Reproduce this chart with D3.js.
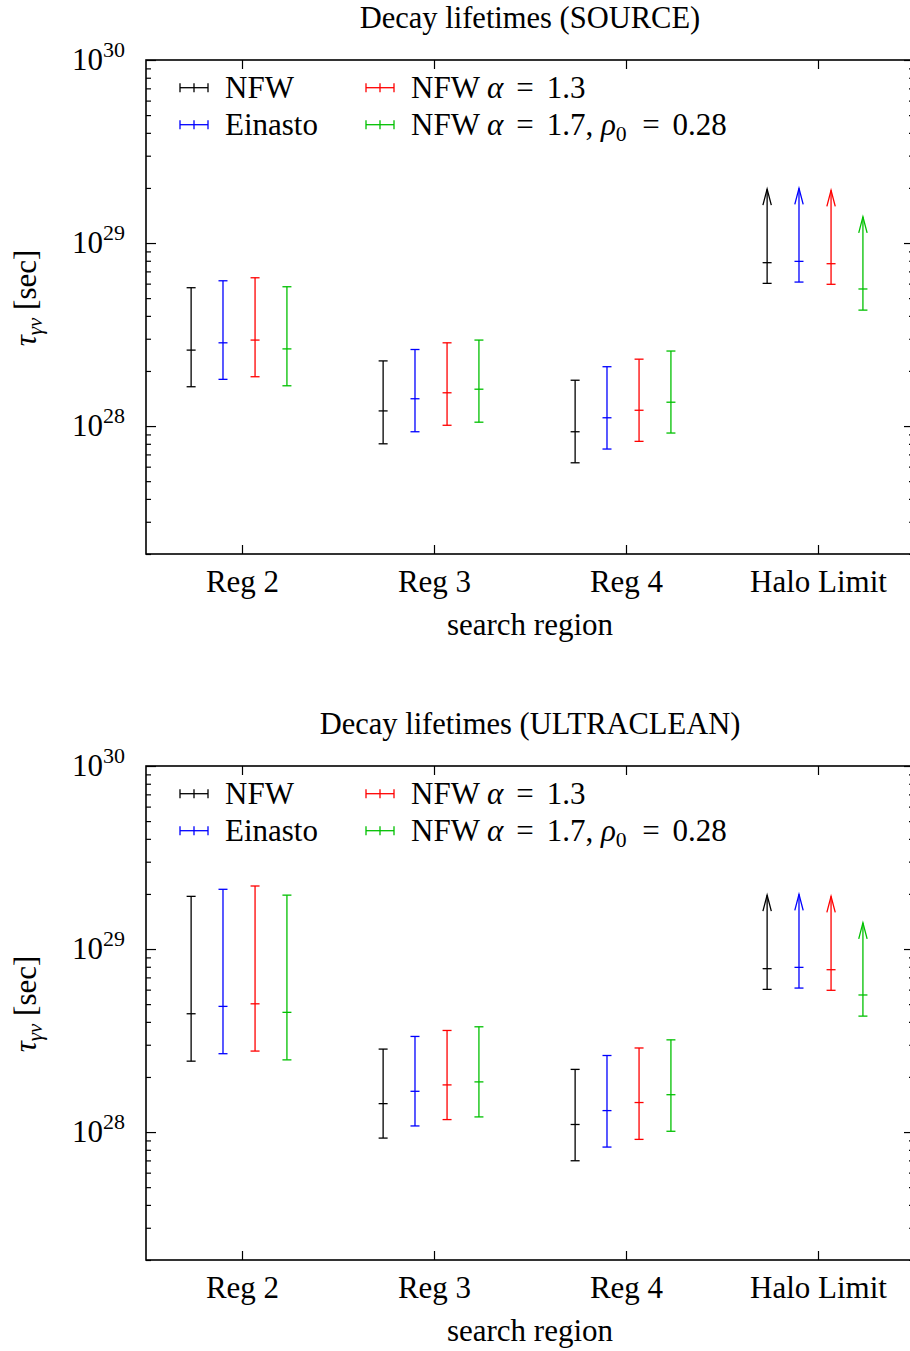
<!DOCTYPE html>
<html><head><meta charset="utf-8">
<script src="https://cdn.jsdelivr.net/npm/d3@7"></script>
<style>
body{margin:0;background:#fff}
svg text{font-family:"Liberation Serif","Times New Roman",serif;fill:#000}
</style>
</head><body>
<svg id="chart" width="910" height="1351"></svg>
<script>
// ---------------- data ----------------
const categories = ["Reg 2", "Reg 3", "Reg 4", "Halo Limit"];
const isLowerLimit = [false, false, false, true];
const seriesNames = ["NFW", "Einasto", "NFW α = 1.3", "NFW α = 1.7, ρ_0 = 0.28"];
const seriesColors = ["#000000", "#0000ff", "#ff0000", "#00c000"];
const seriesOffsets = [-0.265, -0.099, 0.068, 0.234];

const yMajorTicks = [1e28, 1e29, 1e30];
const yMajorExponents = ["28", "29", "30"];

// SOURCE panel  (rows = series, columns = categories)
const sourceMid = [
  [2.60e28, 1.21e28, 9.31e27, 7.81e28],
  [2.85e28, 1.41e28, 1.11e28, 7.94e28],
  [2.95e28, 1.52e28, 1.22e28, 7.71e28],
  [2.64e28, 1.59e28, 1.35e28, 5.61e28]
];
const sourceLow = [
  [1.64e28, 8.00e27, 6.30e27, 6.02e28],
  [1.80e28, 9.31e27, 7.49e27, 6.12e28],
  [1.86e28, 1.01e28, 8.25e27, 5.95e28],
  [1.66e28, 1.05e28, 9.16e27, 4.30e28]
];
const sourceHigh = [
  [5.70e28, 2.27e28, 1.78e28, 1.97e29],
  [6.22e28, 2.62e28, 2.11e28, 1.99e29],
  [6.46e28, 2.85e28, 2.32e28, 1.94e29],
  [5.77e28, 2.95e28, 2.57e28, 1.39e29]
];

// ULTRACLEAN panel
const ultraMid = [
  [4.43e28, 1.43e28, 1.10e28, 7.81e28],
  [4.86e28, 1.67e28, 1.31e28, 7.94e28],
  [5.02e28, 1.81e28, 1.45e28, 7.71e28],
  [4.51e28, 1.88e28, 1.60e28, 5.61e28]
];
const ultraLow = [
  [2.44e28, 9.27e27, 6.97e27, 6.02e28],
  [2.68e28, 1.08e28, 8.28e27, 6.12e28],
  [2.77e28, 1.17e28, 9.12e27, 5.95e28],
  [2.48e28, 1.21e28, 1.01e28, 4.30e28]
];
const ultraHigh = [
  [1.94e29, 2.84e28, 2.20e28, 1.97e29],
  [2.12e29, 3.33e28, 2.62e28, 1.99e29],
  [2.21e29, 3.59e28, 2.88e28, 1.94e29],
  [1.97e29, 3.76e28, 3.19e28, 1.39e29]
];

const panels = [
  {title: "Decay lifetimes (SOURCE)", top: 60, mid: sourceMid, low: sourceLow, high: sourceHigh},
  {title: "Decay lifetimes (ULTRACLEAN)", top: 766, mid: ultraMid, low: ultraLow, high: ultraHigh}
];

// ---------------- drawing ----------------
const svg = d3.select("#chart");
svg.append("rect").attr("width", 910).attr("height", 1351).attr("fill", "#fff");

const FS = 31;
const plotLeft = 146, plotRight = 914, plotH = 494;

const yMinorTicks = [];
[1e27, 1e28, 1e29].forEach(d => { for (let k = 2; k <= 9; k++) { const v = k * d; if (v >= 2e27 && v < 1e30) yMinorTicks.push(v); } });

function richText(sel, str) {
  const parts = str.split(/(α|ρ|_0| = )/).filter(p => p !== "");
  parts.forEach(p => {
    if (p === "α" || p === "ρ") sel.append("tspan").attr("font-style", "italic").text(p);
    else if (p === " = ") sel.append("tspan").text(" \u2006=\u2006 ");
    else if (p === "_0") {
      sel.append("tspan").attr("font-size", FS * 0.7).attr("dy", 6).text("0");
      sel.append("tspan").attr("dy", -6).text("\u200a");
    } else sel.append("tspan").text(p);
  });
}

panels.forEach(p => {
  const top = p.top, bottom = top + plotH;
  const g = svg.append("g");
  const x = d3.scaleLinear().domain([0.5, 4.5]).range([plotLeft, plotRight]);
  const y = d3.scaleLog().domain([2e27, 1e30]).range([bottom, top]);

  // axes ticks (inward)
  const styleAxis = a => { a.select(".domain").remove(); a.selectAll("line").attr("stroke", "#000").attr("stroke-width", 1.2); };
  g.append("g").attr("transform", `translate(${plotLeft},0)`)
    .call(d3.axisLeft(y).tickValues(yMajorTicks).tickSize(-10).tickFormat("")).call(styleAxis);
  g.append("g").attr("transform", `translate(${plotLeft},0)`)
    .call(d3.axisLeft(y).tickValues(yMinorTicks).tickSize(-5).tickFormat("")).call(styleAxis);
  g.append("g").attr("transform", `translate(${plotRight},0)`)
    .call(d3.axisRight(y).tickValues(yMajorTicks).tickSize(-10).tickFormat("")).call(styleAxis);
  g.append("g").attr("transform", `translate(${plotRight},0)`)
    .call(d3.axisRight(y).tickValues(yMinorTicks).tickSize(-5).tickFormat("")).call(styleAxis);
  g.append("g").attr("transform", `translate(0,${top})`)
    .call(d3.axisTop(x).tickValues([1, 2, 3, 4]).tickSize(-9).tickFormat("")).call(styleAxis);
  const xb = g.append("g").attr("transform", `translate(0,${bottom})`)
    .call(d3.axisBottom(x).tickValues([1, 2, 3, 4]).tickSize(-9).tickFormat((d, i) => categories[i]));
  styleAxis(xb);
  xb.selectAll("text").attr("y", 38).attr("dy", 0).attr("font-size", FS)
    .attr("font-family", "Liberation Serif, serif").attr("fill", "#000");

  // frame
  g.append("rect").attr("x", plotLeft).attr("y", top).attr("width", plotRight - plotLeft).attr("height", plotH)
    .attr("fill", "none").attr("stroke", "#000").attr("stroke-width", 1.6);

  // y tick labels
  yMajorTicks.forEach((v, i) => {
    const t = g.append("text").attr("x", 125).attr("y", y(v) + 10).attr("text-anchor", "end").attr("font-size", FS);
    t.append("tspan").text("10");
    t.append("tspan").attr("font-size", 22).attr("dy", -13).text(yMajorExponents[i]);
  });

  // titles
  g.append("text").attr("x", (plotLeft + plotRight) / 2).attr("y", top - 32).attr("text-anchor", "middle")
    .attr("font-size", 30.5).text(p.title);
  g.append("text").attr("x", (plotLeft + plotRight) / 2).attr("y", bottom + 81).attr("text-anchor", "middle")
    .attr("font-size", FS).text("search region");
  const yl = g.append("text").attr("transform", `translate(36,${top + 238}) rotate(-90)`)
    .attr("text-anchor", "middle").attr("font-size", FS);
  yl.append("tspan").attr("font-style", "italic").text("τ");
  yl.append("tspan").attr("font-style", "italic").attr("font-size", 21).attr("dy", 6).text("γν");
  yl.append("tspan").attr("dy", -6).text(" [sec]");

  // error bars
  const cap = 4.5;
  seriesNames.forEach((name, s) => {
    const col = seriesColors[s];
    const sg = g.append("g").attr("stroke", col).attr("stroke-width", 1.3).attr("fill", "none");
    categories.forEach((c, ci) => {
      const cx = x(ci + 1 + seriesOffsets[s]);
      const yl0 = y(p.low[s][ci]), yh = y(p.high[s][ci]), ym = y(p.mid[s][ci]);
      sg.append("line").attr("x1", cx).attr("x2", cx).attr("y1", yl0).attr("y2", yh);
      sg.append("line").attr("x1", cx - cap).attr("x2", cx + cap).attr("y1", yl0).attr("y2", yl0);
      sg.append("line").attr("x1", cx - cap).attr("x2", cx + cap).attr("y1", ym).attr("y2", ym);
      if (isLowerLimit[ci]) {
        sg.append("polyline").attr("points", `${cx - 4.2},${yh + 16} ${cx},${yh} ${cx + 4.2},${yh + 16}`);
      } else {
        sg.append("line").attr("x1", cx - cap).attr("x2", cx + cap).attr("y1", yh).attr("y2", yh);
      }
    });
  });

  // legend
  seriesNames.forEach((name, s) => {
    const colI = Math.floor(s / 2), row = s % 2;
    const x0 = [180, 366][colI], tx = [225, 411][colI];
    const ly = top + 27.7 + row * 37;
    const lg = g.append("g").attr("stroke", seriesColors[s]).attr("stroke-width", 1.3);
    lg.append("line").attr("x1", x0).attr("x2", x0 + 28).attr("y1", ly).attr("y2", ly);
    [x0, x0 + 14, x0 + 28].forEach(xx => lg.append("line").attr("x1", xx).attr("x2", xx).attr("y1", ly - 4.5).attr("y2", ly + 4.5));
    const t = g.append("text").attr("x", tx).attr("y", ly + 10).attr("font-size", FS);
    richText(t, name);
  });
});
</script>
</body></html>
